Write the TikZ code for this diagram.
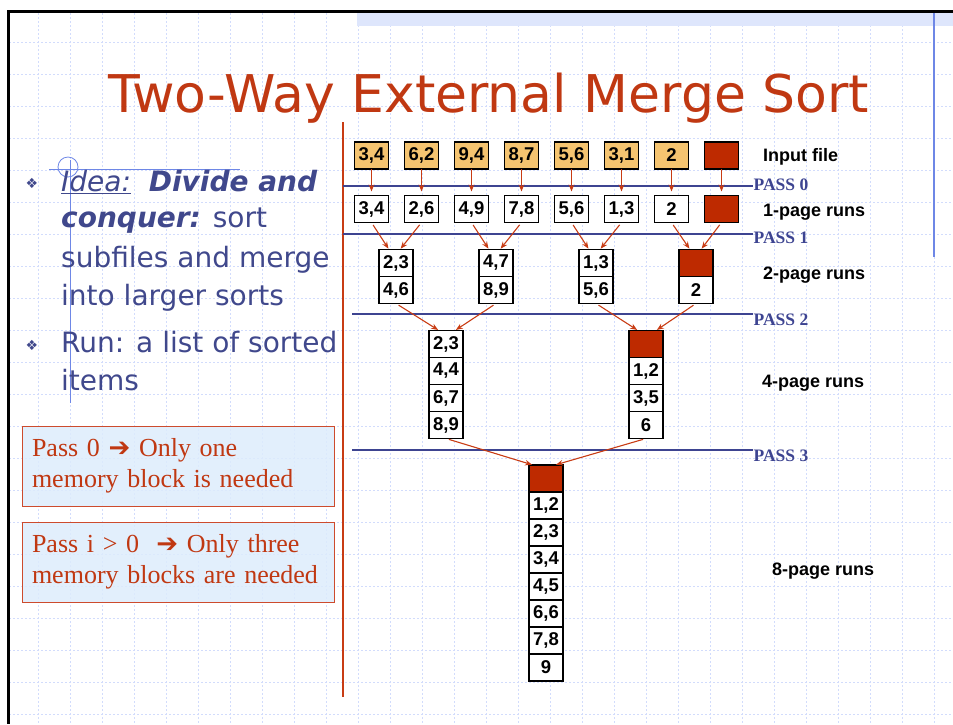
\documentclass[tikz,border=0pt]{standalone}
\usepackage{fontspec}
\usetikzlibrary{arrows.meta}

\newfontfamily\tahomafont{DejaVu Sans}
\newfontfamily\arialfont{Liberation Sans}
\newfontfamily\timesfont{Liberation Serif}

\definecolor{titlered}{RGB}{192,56,18}
\definecolor{bulletblue}{RGB}{64,72,140}
\definecolor{passblue}{RGB}{61,68,145}
\definecolor{arrowred}{RGB}{200,60,20}
\definecolor{blockred}{RGB}{190,42,0}
\definecolor{tanfill}{RGB}{245,196,112}
\definecolor{notefill}{RGB}{221,236,252}
\definecolor{noteborder}{RGB}{205,75,45}
\definecolor{gridblue}{RGB}{210,220,252}
\definecolor{stripblue}{RGB}{222,230,252}
\definecolor{decoblue}{RGB}{110,135,230}

\newcommand\slidetitlefont{\tahomafont\fontsize{52}{56}\selectfont}
\newcommand\pointfont{\tahomafont\fontsize{28}{32}\selectfont}
\newcommand\notefont{\timesfont\fontsize{26}{31.3}\selectfont}
\newcommand\cellfont{\arialfont\bfseries\fontsize{18.5}{18.5}\selectfont}
\newcommand\runfont{\arialfont\bfseries\fontsize{18}{18}\selectfont}
\newcommand\passfont{\timesfont\bfseries\fontsize{17.5}{18}\selectfont}

\begin{document}
\begin{tikzpicture}[x=1pt, y=-1pt,
  gridline/.style={draw=gridblue, line width=1pt, dash pattern=on 2pt off 2pt},
  cell/.style={draw, line width=1.1pt, fill=white, minimum width=34pt, minimum height=27pt, inner sep=0pt, outer sep=0pt, font=\cellfont},
  inbox/.style={cell, fill=tanfill},
  redcell/.style={cell, fill=blockred},
  flow/.style={->, >={Stealth[length=7pt,width=5.5pt]}, draw=arrowred, line width=1.1pt},
  passline/.style={draw=passblue, line width=2pt},
  passlabel/.style={anchor=west, text=passblue, font=\passfont, inner sep=0pt},
  runlabel/.style={anchor=west, font=\runfont, inner sep=0pt},
  point/.style={anchor=base west, text=bulletblue, font=\pointfont, inner sep=0pt},
  notebox/.style={draw=noteborder, fill=notefill, fill opacity=0.85, text opacity=1, line width=1pt, text=titlered, font=\notefont, text width=292pt, minimum height=80pt, inner xsep=10pt, inner ysep=0pt, align=left}]
\useasboundingbox (0,0) rectangle (953,724);

% slide background
\foreach \gx in {38,70,...,934} \draw[gridline] (\gx,13) -- (\gx,724);
\foreach \gy in {42,74,...,714} \draw[gridline] (9,\gy) -- (953,\gy);
\fill[stripblue] (357,13) rectangle (953,26);
\draw[black, line width=3pt] (7,11.5) -- (953,11.5);
\draw[black, line width=3pt] (8.5,10) -- (8.5,724);
\draw[decoblue, line width=2pt] (934,13) -- (934,257);
\draw[arrowred, line width=2pt] (343,122) -- (343,697);
\draw[decoblue, line width=0.8pt] (49,169) -- (240,169) (70,160) -- (70,403);
\draw[decoblue, line width=0.8pt] (68,167) circle[radius=10pt];

\node[anchor=base, text=titlered, font=\slidetitlefont, inner sep=0pt] (title) at (489,112) {Two-Way External Merge Sort};

% left column
\node[text=bulletblue, font=\tahomafont\fontsize{14}{14}\selectfont, inner sep=0pt] (dot1) at (32,183) {❖};
\node[text=bulletblue, font=\tahomafont\fontsize{14}{14}\selectfont, inner sep=0pt] (dot2) at (32,345) {❖};
\node[point] (l1) at (61,191.5) {\underline{\itshape Idea:}\ \ {\bfseries\itshape Divide and}};
\node[point] (l2) at (61,227.5) {{\bfseries\itshape conquer:} sort};
\node[point] (l3) at (61,267) {subfiles and merge};
\node[point] (l4) at (61,305) {into larger sorts};
\node[point] (l5) at (61,352) {Run: a list of sorted};
\node[point] (l6) at (61,390) {items};

\node[notebox] (note1) at (178,466) {Pass 0 {\tahomafont ➔} Only one\\memory block is needed};
\node[notebox] (note2) at (178,562) {Pass i > 0\ \ {\tahomafont ➔} Only three\\memory blocks are needed};

% input file
\node[inbox] (in1) at (371.5,155.5) {3,4};
\node[inbox] (in2) at (421.5,155.5) {6,2};
\node[inbox] (in3) at (471.5,155.5) {9,4};
\node[inbox] (in4) at (521.5,155.5) {8,7};
\node[inbox] (in5) at (571.5,155.5) {5,6};
\node[inbox] (in6) at (621.5,155.5) {3,1};
\node[inbox] (in7) at (671.5,155.5) {2};
\node[redcell] (in8) at (721.5,155.5) {};

% 1-page runs
\node[cell] (run1) at (371.5,209) {3,4};
\node[cell] (run2) at (421.5,209) {2,6};
\node[cell] (run3) at (471.5,209) {4,9};
\node[cell] (run4) at (521.5,209) {7,8};
\node[cell] (run5) at (571.5,209) {5,6};
\node[cell] (run6) at (621.5,209) {1,3};
\node[cell] (run7) at (671.5,209) {2};
\node[redcell] (run8) at (721.5,209) {};

% 2-page runs
\node[cell] (twoA1) at (396,263) {2,3};
\node[cell] (twoA2) at (396,290) {4,6};
\node[cell] (twoB1) at (496,263) {4,7};
\node[cell] (twoB2) at (496,290) {8,9};
\node[cell] (twoC1) at (596,263) {1,3};
\node[cell] (twoC2) at (596,290) {5,6};
\node[redcell] (twoD1) at (696,263) {};
\node[cell] (twoD2) at (696,290) {2};

% 4-page runs
\node[cell] (fourA1) at (446,344) {2,3};
\node[cell] (fourA2) at (446,371) {4,4};
\node[cell] (fourA3) at (446,398) {6,7};
\node[cell] (fourA4) at (446,425) {8,9};
\node[redcell] (fourB1) at (646,344) {};
\node[cell] (fourB2) at (646,371) {1,2};
\node[cell] (fourB3) at (646,398) {3,5};
\node[cell] (fourB4) at (646,425) {6};

% 8-page run
\node[redcell] (eight1) at (546,478.5) {};
\node[cell] (eight2) at (546,505.5) {1,2};
\node[cell] (eight3) at (546,532.5) {2,3};
\node[cell] (eight4) at (546,559.5) {3,4};
\node[cell] (eight5) at (546,586.5) {4,5};
\node[cell] (eight6) at (546,613.5) {6,6};
\node[cell] (eight7) at (546,640.5) {7,8};
\node[cell] (eight8) at (546,667.5) {9};

% passes
\node[passlabel] (pass0) at (753.5,185) {PASS 0};
\node[passlabel] (pass1) at (753.5,238) {PASS 1};
\node[passlabel] (pass2) at (753.5,320) {PASS 2};
\node[passlabel] (pass3) at (753.5,456) {PASS 3};
\coordinate (s0) at (343,186);
\coordinate (s1) at (343,234);
\coordinate (s2) at (352,314);
\coordinate (s3) at (352,450);
\draw[passline] (s0) -- ([xshift=-1pt]s0 -| pass0.west);
\draw[passline] (s1) -- ([xshift=-1pt]s1 -| pass1.west);
\draw[passline] (s2) -- ([xshift=-1pt]s2 -| pass2.west);
\draw[passline] (s3) -- ([xshift=-1pt]s3 -| pass3.west);

\node[runlabel] (lab0) at (763,157) {Input file};
\node[runlabel] (lab1) at (763,212) {1-page runs};
\node[runlabel] (lab2) at (763,275) {2-page runs};
\node[runlabel] (lab4) at (762,383) {4-page runs};
\node[runlabel] (lab8) at (772,571) {8-page runs};

% pass 0
\draw[flow, shorten >=4pt] (in1.south) -- (run1.north);
\draw[flow, shorten >=4pt] (in2.south) -- (run2.north);
\draw[flow, shorten >=4pt] (in3.south) -- (run3.north);
\draw[flow, shorten >=4pt] (in4.south) -- (run4.north);
\draw[flow, shorten >=4pt] (in5.south) -- (run5.north);
\draw[flow, shorten >=4pt] (in6.south) -- (run6.north);
\draw[flow, shorten >=4pt] (in7.south) -- (run7.north);
\draw[flow, shorten >=4pt] (in8.south) -- (run8.north);

% pass 1
\draw[flow, shorten <=3pt, shorten >=1pt] (run1.south) -- ([xshift=-7pt]twoA1.north);
\draw[flow, shorten <=3pt, shorten >=1pt] (run2.south) -- ([xshift=4pt]twoA1.north);
\draw[flow, shorten <=3pt, shorten >=1pt] (run3.south) -- ([xshift=-7pt]twoB1.north);
\draw[flow, shorten <=3pt, shorten >=1pt] (run4.south) -- ([xshift=4pt]twoB1.north);
\draw[flow, shorten <=3pt, shorten >=1pt] (run5.south) -- ([xshift=-7pt]twoC1.north);
\draw[flow, shorten <=3pt, shorten >=1pt] (run6.south) -- ([xshift=4pt]twoC1.north);
\draw[flow, shorten <=3pt, shorten >=1pt] (run7.south) -- ([xshift=-6pt]twoD1.north);
\draw[flow, shorten <=3pt, shorten >=1pt] (run8.south) -- ([xshift=5pt]twoD1.north);

% pass 2
\draw[flow, shorten <=3pt, shorten >=1pt] (twoA2.south) -- ([xshift=-7pt]fourA1.north);
\draw[flow, shorten <=3pt, shorten >=1pt] (twoB2.south) -- ([xshift=9pt]fourA1.north);
\draw[flow, shorten <=3pt, shorten >=1pt] (twoC2.south) -- ([xshift=-8pt]fourB1.north);
\draw[flow, shorten <=3pt, shorten >=1pt] (twoD2.south) -- ([xshift=10pt]fourB1.north);

% pass 3
\draw[flow, shorten <=3pt, shorten >=1pt] (fourA4.south) -- ([xshift=-13pt]eight1.north);
\draw[flow, shorten <=3pt, shorten >=1pt] (fourB4.south) -- ([xshift=9pt]eight1.north);

\end{tikzpicture}
\end{document}
